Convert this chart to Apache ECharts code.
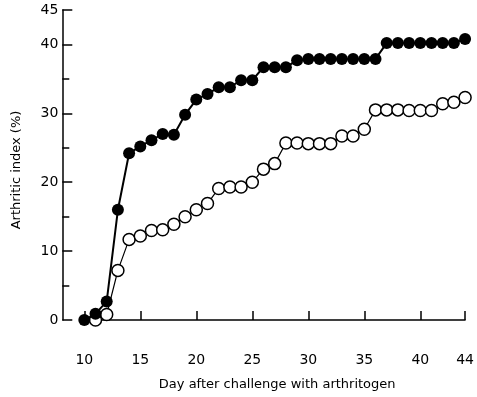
<!DOCTYPE html>
<html>
<head>
<meta charset="utf-8">
<script src="https://cdn.jsdelivr.net/npm/echarts@6/dist/echarts.min.js"></script>
<style>
  html, body { margin: 0; padding: 0; background: #fff; }
  #chart { width: 477px; height: 397px; }
</style>
</head>
<body>
<div id="chart"></div>
<script>
// days after challenge
var days = [10, 11, 12, 13, 14, 15, 16, 17, 18, 19, 20, 21, 22, 23, 24, 25, 26, 27,
  28, 29, 30, 31, 32, 33, 34, 35, 36, 37, 38, 39, 40, 41, 42, 43, 44]
// filled circles
var filledIndex = [0, 0.9, 2.7, 16, 24.2, 25.2, 26.1, 27, 26.9, 29.8, 32, 32.8, 33.8, 33.8,
  34.8, 34.8, 36.7, 36.7, 36.7, 37.7, 37.9, 37.9, 37.9, 37.9, 37.9, 37.9, 37.9,
  40.2, 40.2, 40.2, 40.2, 40.2, 40.2, 40.2, 40.8]
// open circles (no point on day 10)
var openIndex = [null, 0, 0.8, 7.2, 11.7, 12.2, 13, 13.1, 13.9, 15, 16, 16.9, 19.1, 19.3,
  19.3, 20, 21.9, 22.7, 25.7, 25.7, 25.6, 25.6, 25.6, 26.7, 26.7, 27.7, 30.5,
  30.5, 30.5, 30.4, 30.4, 30.4, 31.4, 31.6, 32.3]

var xTicks = [10, 15, 20, 25, 30, 35, 40, 44]
var yTicks = [0, 10, 20, 30, 40, 45]
var yMinorTicks = [5, 15, 25, 35]

var font = 'DejaVu Sans'

function pairs(vals) {
  return days.map(function (d, i) { return [d, vals[i]] })
}

var chart = echarts.init(document.getElementById('chart'), null, { renderer: 'canvas' })

var option = {
  animation: false,
  backgroundColor: '#fff',
  grid: { left: 84.3, right: 11.3, top: 10, bottom: 77 },
  xAxis: {
    type: 'value',
    min: 10,
    max: 44,
    offset: 27,
    splitLine: { show: false },
    axisLine: { show: true, lineStyle: { color: '#000', width: 1.5 } },
    axisTick: { show: true, inside: true, length: 9, customValues: xTicks, lineStyle: { color: '#000', width: 1.5 } },
    axisLabel: { customValues: xTicks, margin: 6, color: '#000', fontFamily: font, fontSize: 14 },
    name: 'Day after challenge with arthritogen',
    nameLocation: 'middle',
    nameGap: 31,
    nameTextStyle: { color: '#000', fontFamily: font, fontSize: 13, padding: [0, 0, 0, 5] }
  },
  yAxis: [{
    type: 'value',
    min: 0,
    max: 45,
    offset: 22,
    splitLine: { show: false },
    axisLine: { show: true, lineStyle: { color: '#000', width: 1.5 } },
    axisTick: { show: true, inside: true, length: 10, customValues: yTicks, lineStyle: { color: '#000', width: 1.5 } },
    axisLabel: { customValues: yTicks, margin: 4, color: '#000', fontFamily: font, fontSize: 14 },
    name: 'Arthritic index (%)',
    nameLocation: 'middle',
    nameGap: 39,
    nameTextStyle: { color: '#000', fontFamily: font, fontSize: 13, padding: [0, 10, 0, 0] }
  }, {
    // short ticks at the halfway marks
    type: 'value',
    min: 0,
    max: 45,
    offset: 22,
    position: 'left',
    splitLine: { show: false },
    axisLine: { show: false },
    axisTick: { show: true, inside: true, length: 7, customValues: yMinorTicks, lineStyle: { color: '#000', width: 1.5 } },
    axisLabel: { show: false }
  }],
  series: [{
    type: 'line',
    data: pairs(openIndex),
    symbol: 'circle',
    symbolSize: 12,
    itemStyle: { color: '#fff', borderColor: '#000', borderWidth: 1.5 },
    lineStyle: { color: '#000', width: 1.2 },
    z: 2
  }, {
    type: 'line',
    data: pairs(filledIndex),
    symbol: 'circle',
    symbolSize: 12,
    itemStyle: { color: '#000', borderColor: '#000', borderWidth: 0 },
    lineStyle: { color: '#000', width: 2 },
    z: 3
  }]
}

chart.setOption(option)
</script>
</body>
</html>
